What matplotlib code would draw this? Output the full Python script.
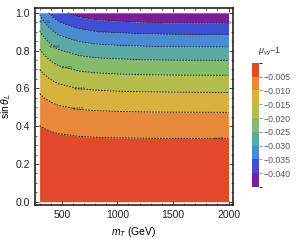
import numpy as np
import matplotlib
matplotlib.use("Agg")
import matplotlib.pyplot as plt
from matplotlib.colors import ListedColormap, BoundaryNorm
from matplotlib.cm import ScalarMappable
from matplotlib.ticker import MultipleLocator

plt.rcParams["font.family"] = ["Liberation Sans", "DejaVu Sans"]
plt.rcParams["mathtext.fontset"] = "custom"
plt.rcParams["mathtext.it"] = "Liberation Sans:italic"
plt.rcParams["mathtext.rm"] = "Liberation Sans"

# contour levels of mu_gg - 1 and where each one runs (sin theta_L vs m_T)
levels = [-0.040, -0.035, -0.030, -0.025, -0.020, -0.015, -0.010, -0.005]
mt = np.array([300, 340, 380, 420, 470, 555, 650, 800, 1000, 1250, 1500, 2000])
s_005 = [0.404, 0.389, 0.378, 0.369, 0.360, 0.354, 0.346, 0.341, 0.338, 0.336, 0.335, 0.334]
s_010 = [0.572, 0.550, 0.535, 0.521, 0.510, 0.500, 0.489, 0.482, 0.478, 0.475, 0.474, 0.473]
s_015 = [0.700, 0.674, 0.655, 0.639, 0.624, 0.612, 0.599, 0.591, 0.585, 0.582, 0.580, 0.578]
s_020 = [0.808, 0.778, 0.756, 0.738, 0.720, 0.707, 0.692, 0.682, 0.676, 0.672, 0.670, 0.669]
s_025 = [0.904, 0.870, 0.845, 0.825, 0.805, 0.791, 0.774, 0.762, 0.756, 0.751, 0.749, 0.748]
s_030 = [0.990, 0.953, 0.926, 0.904, 0.882, 0.866, 0.848, 0.835, 0.828, 0.823, 0.820, 0.819]
s_035 = [np.nan, np.nan, 1.000, 0.976, 0.953, 0.935, 0.916, 0.902, 0.894, 0.889, 0.886, 0.884]
s_040 = [np.nan, np.nan, np.nan, np.nan, np.nan, 1.000, 0.979, 0.964, 0.956, 0.950, 0.947, 0.945]

# label positions (m_T) along each contour
label_mt = {-0.040: 1975, -0.035: 870, -0.030: 345, -0.025: 435,
            -0.020: 540, -0.015: 665, -0.010: 645, -0.005: 1915}

colors = ["#7b1f97", "#3e4ed6", "#4a8cd4", "#5aa9a2", "#85bc6c",
          "#b4be4c", "#d9b13e", "#e8883a", "#e2492a"]

curves = [s_040, s_035, s_030, s_025, s_020, s_015, s_010, s_005]
curves = [np.array(c, dtype=float) for c in curves]

fig = plt.figure(figsize=(2.96, 2.44), dpi=100)
ax = fig.add_axes([0.118, 0.160, 0.669, 0.807])

# bands, top (purple) to bottom (red)
upper = np.ones(len(mt))
for i, col in enumerate(colors):
    if i < len(curves):
        lower = np.where(np.isnan(curves[i]), 1.0, curves[i])
    else:
        lower = np.zeros(len(mt))
    ax.fill_between(mt, lower, upper, color=col, lw=0, zorder=1)
    upper = lower

for lev, c in zip(levels, curves):
    ax.plot(mt, c, ls=(0, (1.8, 1.2)), color="#333333", lw=0.7, zorder=2)
    xm = label_mt[lev]
    ok = ~np.isnan(c)
    ym = np.interp(xm, mt[ok], c[ok])
    ax.text(xm, ym, f"{lev:.3f}".replace("-", "\u2212"), fontsize=2.8,
            color="#444444", ha="center", va="center", zorder=3)

ax.set_xlim(258, 2040)
ax.set_ylim(-0.017, 1.025)
ax.xaxis.set_major_locator(MultipleLocator(500))
ax.xaxis.set_minor_locator(MultipleLocator(100))
ax.yaxis.set_major_locator(MultipleLocator(0.2))
ax.yaxis.set_minor_locator(MultipleLocator(0.05))
ax.tick_params(which="both", direction="in", top=True, right=True,
               labelsize=7.5, colors="#222222")
ax.tick_params(which="major", length=3, width=0.6)
ax.tick_params(which="minor", length=1.5, width=0.5)
for sp in ax.spines.values():
    sp.set_linewidth(1.2)
    sp.set_color("#222222")
ax.set_xlabel(r"$m_T$ (GeV)", fontsize=7.5, labelpad=4)
ax.set_ylabel(r"sin$\,\theta_L$", fontsize=7.5, labelpad=2)

# colour legend
cmap = ListedColormap(colors)
bounds = [-0.045] + levels + [0.0]
norm = BoundaryNorm(bounds, cmap.N)
cax = fig.add_axes([0.851, 0.234, 0.024, 0.508])
cb = fig.colorbar(ScalarMappable(norm=norm, cmap=cmap), cax=cax, ticks=levels)
cb.outline.set_visible(False)
cb.ax.set_yticklabels([f"{v:.3f}".replace("-", "\u2212") for v in levels])
cb.ax.tick_params(labelsize=6.3, colors="#555555", length=2, width=0.4, pad=1)
fig.text(0.912, 0.786, r"$\mu_{\gamma\gamma}$$\mathrm{-1}$", fontsize=6.5,
         ha="center", va="center", color="#333333")

fig.savefig("out.png", dpi=100)
